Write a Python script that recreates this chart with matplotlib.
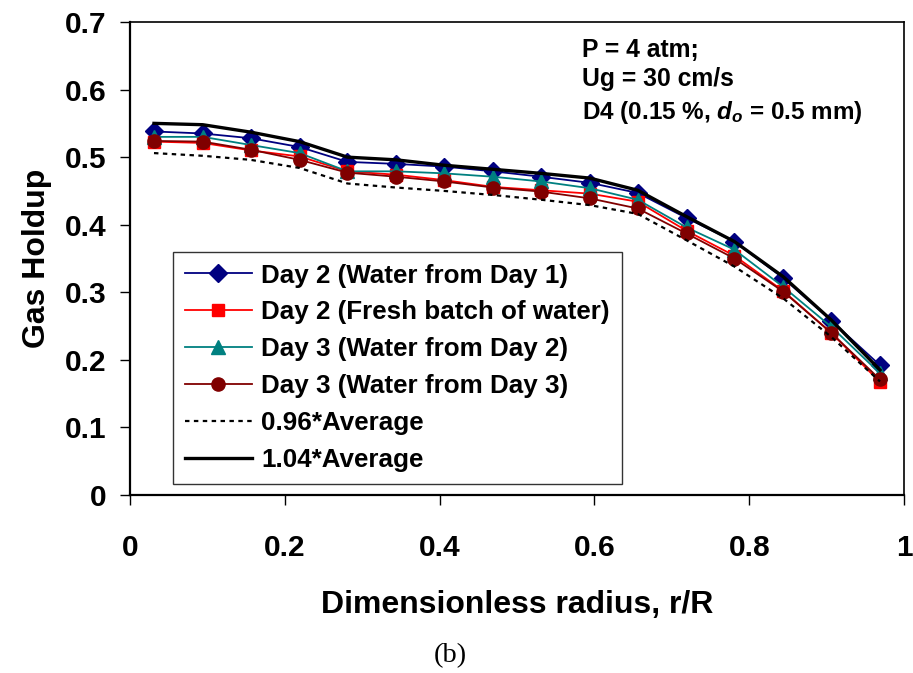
import numpy as np
import matplotlib.pyplot as plt
from matplotlib.ticker import MultipleLocator

plt.rcParams['font.family'] = 'Liberation Sans'
plt.rcParams['font.weight'] = 'bold'
plt.rcParams['axes.labelweight'] = 'bold'
plt.rcParams['mathtext.fontset'] = 'custom'
plt.rcParams['mathtext.it'] = 'Liberation Sans:bold:italic'
plt.rcParams['mathtext.rm'] = 'Liberation Sans:bold'

# radial positions r/R
r = [0.031, 0.094, 0.156, 0.219, 0.281, 0.344, 0.406, 0.469,
     0.531, 0.594, 0.656, 0.719, 0.781, 0.844, 0.906, 0.969]

day2_old = [0.538, 0.535, 0.528, 0.515, 0.493, 0.490, 0.486, 0.479,
            0.471, 0.462, 0.447, 0.410, 0.375, 0.321, 0.258, 0.192]
day2_fresh = [0.523, 0.521, 0.510, 0.501, 0.479, 0.474, 0.466, 0.456,
              0.451, 0.446, 0.434, 0.391, 0.354, 0.302, 0.240, 0.167]
day3_old = [0.530, 0.530, 0.518, 0.506, 0.479, 0.479, 0.476, 0.471,
            0.464, 0.454, 0.437, 0.396, 0.363, 0.308, 0.249, 0.180]
day3_d3 = [0.524, 0.523, 0.511, 0.496, 0.477, 0.471, 0.464, 0.455,
           0.449, 0.439, 0.424, 0.387, 0.350, 0.301, 0.240, 0.171]
low_avg = [0.506, 0.502, 0.496, 0.484, 0.461, 0.455, 0.450, 0.444,
           0.437, 0.429, 0.416, 0.377, 0.338, 0.291, 0.234, 0.168]
high_avg = [0.550, 0.548, 0.537, 0.523, 0.500, 0.496, 0.488, 0.482,
            0.476, 0.469, 0.451, 0.412, 0.375, 0.323, 0.259, 0.185]

fig = plt.figure(figsize=(9.13, 6.73), dpi=100)
ax = fig.add_axes([130/913, 1-495/673, 774/913, 473/673])

ax.plot(r, day2_old, color='#000080', lw=1.3, marker='D', ms=9,
        label='Day 2 (Water from Day 1)')
ax.plot(r, day2_fresh, color='#ff0000', lw=1.3, marker='s', ms=9,
        label='Day 2 (Fresh batch of water)')
ax.plot(r, day3_old, color='#008080', lw=1.3, marker='^', ms=10,
        label='Day 3 (Water from Day 2)')
ax.plot(r, day3_d3, color='#800000', lw=1.3, marker='o', ms=9.5,
        label='Day 3 (Water from Day 3)')
ax.plot(r, low_avg, color='black', lw=1.6, ls=(0, (2, 2)),
        label='0.96*Average')
ax.plot(r, high_avg, color='black', lw=2.4, label='1.04*Average')

ax.set_xlim(0, 1)
ax.set_ylim(0, 0.7)
ax.xaxis.set_major_locator(MultipleLocator(0.2))
ax.yaxis.set_major_locator(MultipleLocator(0.1))
ax.xaxis.set_major_formatter(plt.FuncFormatter(lambda v, p: f'{v:g}'))
ax.yaxis.set_major_formatter(plt.FuncFormatter(lambda v, p: f'{v:g}'))
ax.tick_params(axis='x', direction='out', length=7, width=1, pad=21, labelsize=21.5)
ax.tick_params(axis='y', direction='out', length=7, width=1, pad=10, labelsize=21.5)
for s in ['left', 'bottom']:
    ax.spines[s].set_linewidth(1.6)
for s in ['top', 'right']:
    ax.spines[s].set_linewidth(1.2)

ax.set_xlabel('Dimensionless radius, r/R', fontsize=23, labelpad=20)
ax.set_ylabel('Gas Holdup', fontsize=23, labelpad=9)

leg = ax.legend(loc='lower left', bbox_to_anchor=(0.0556, 0.023),
                borderaxespad=0, fontsize=18.7, frameon=True, fancybox=False,
                handlelength=2.6, handletextpad=0.35, labelspacing=0.5,
                borderpad=0.45)
leg.get_frame().set_edgecolor('black')
leg.get_frame().set_linewidth(1.0)

ax.text(0.584, 0.659, 'P = 4 atm;', fontsize=17.8, va='center')
ax.text(0.584, 0.615, 'Ug = 30 cm/s', fontsize=17.8, va='center')
ax.text(0.584, 0.566, 'D4 (0.15 %, $d_o$ = 0.5 mm)', fontsize=17.5, va='center')

fig.text(450/913, 1-656/673, '(b)', fontsize=20.5, family='Liberation Serif',
         weight='normal', ha='center', va='center')

fig.savefig('out.png', dpi=100)
